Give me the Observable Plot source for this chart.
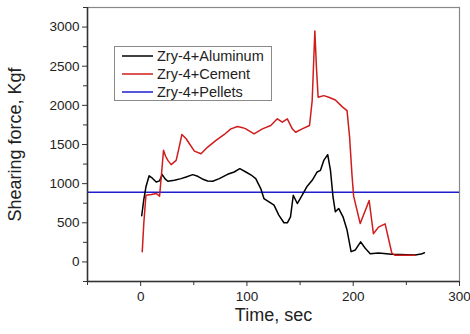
<!DOCTYPE html>
<html>
<head>
<meta charset="utf-8">
<script src="https://cdn.jsdelivr.net/npm/d3@7"></script>
<script src="https://cdn.jsdelivr.net/npm/@observablehq/plot@0.6"></script>
<style>
  html, body { margin: 0; padding: 0; background: #fff; }
  #wrap { position: relative; width: 470px; height: 334px; font-family: "Liberation Sans", Arial, sans-serif; }
  #legend { position: absolute; left: 114px; top: 46px; width: 158px; height: 55px; border: 1px solid #8a8a8a; background: #fff; box-sizing: border-box; padding-top: 0px; }
  .row { display: flex; align-items: center; height: 18px; font-size: 14.5px; color: #222; }
  .row svg { margin-left: 7px; margin-right: 4px; }
</style>
</head>
<body>
<div id="wrap"></div>
<script>
// Zry-4+Aluminum
const timeAl = [1, 3, 5, 8, 11, 14.7, 17.8, 20.3, 23, 25.6, 31.8, 38, 42.8, 49, 53.7, 58, 63, 67.8, 74, 81.8, 88, 93.3, 99, 104, 108.3, 113, 116, 120.8, 125.5, 130, 134.8, 138, 141, 143.6, 147.4, 152, 156.7, 161.4, 166.1, 169.2, 172.3, 176, 178.6, 181, 183.2, 186.3, 190.4, 194.2, 198, 202, 207, 211.3, 216, 223.8, 236.3, 258, 264, 267];
const forceAl = [590, 800, 960, 1100, 1070, 1020, 1035, 1115, 1060, 1030, 1043, 1064, 1085, 1115, 1094, 1060, 1034, 1030, 1064, 1119, 1149, 1191, 1149, 1110, 1064, 937, 810, 767, 725, 598, 500, 500, 576, 852, 746, 852, 967, 1043, 1149, 1170, 1297, 1370, 1170, 830, 640, 683, 576, 407, 131, 153, 256, 174, 105, 114, 98, 90, 100, 118];
// Zry-4+Cement
const timeCe = [1.5, 3, 5, 10, 14.7, 17.8, 19.4, 21.5, 23.5, 25.6, 28.7, 33.4, 36, 38.8, 42.8, 45.9, 50.6, 56.8, 63.1, 70.9, 78.7, 84.9, 91.2, 96, 99, 106.7, 114.6, 122.4, 128.6, 133.3, 138, 142.7, 145.8, 152, 158.9, 161.4, 163.9, 165.4, 167, 172.3, 177, 183.2, 189.5, 194.2, 196.6, 198.9, 200.4, 206.6, 212, 215, 219, 223.8, 230, 236.3, 239.4, 258];
const forceCe = [131, 500, 852, 861, 874, 840, 1085, 1425, 1350, 1297, 1243, 1297, 1450, 1628, 1573, 1510, 1416, 1382, 1467, 1552, 1628, 1700, 1730, 1715, 1700, 1637, 1700, 1743, 1828, 1785, 1828, 1700, 1657, 1700, 1743, 2061, 2951, 2484, 2103, 2124, 2103, 2069, 1984, 1933, 1594, 1100, 840, 490, 680, 785, 360, 445, 487, 114, 85, 85];
// Zry-4+Pellets (constant level)
const pelletsLevel = 890;

const seriesNames = ["Zry-4+Aluminum", "Zry-4+Cement", "Zry-4+Pellets"];
const seriesColors = ["#000000", "#d01c1c", "#1f1fcc"];

const xMajor = [0, 100, 200, 300];
const xMinor = [-50, 50, 150, 250];
const yMajor = [0, 500, 1000, 1500, 2000, 2500, 3000];
const yMinor = [-250, 250, 750, 1250, 1750, 2250, 2750, 3250];

const al = timeAl.map((t, i) => ({t, f: forceAl[i]}));
const ce = timeCe.map((t, i) => ({t, f: forceCe[i]}));

const chart = Plot.plot({
  width: 470,
  height: 334,
  marginLeft: 87,
  marginRight: 11,
  marginTop: 7,
  marginBottom: 53,
  style: {fontFamily: "'Liberation Sans', Arial, sans-serif", fontSize: "13px", color: "#222", background: "#fff"},
  x: {domain: [-50, 300]},
  y: {domain: [-250, 3250]},
  marks: [
    Plot.frame({stroke: "#888", strokeWidth: 1.2}),
    Plot.ruleY([pelletsLevel], {stroke: seriesColors[2], strokeWidth: 1.5}),
    Plot.line(al, {x: "t", y: "f", stroke: seriesColors[0], strokeWidth: 1.5}),
    Plot.line(ce, {x: "t", y: "f", stroke: seriesColors[1], strokeWidth: 1.5}),
    Plot.axisX({ticks: xMinor, tickSize: 4, tickFormat: () => "", label: null, stroke: "#333"}),
    Plot.axisY({ticks: yMinor, tickSize: 4, tickFormat: () => "", label: null, stroke: "#333"}),
    Plot.axisX({ticks: xMajor, tickSize: 5, tickPadding: 5, fontSize: 13.5, tickFormat: d3.format("d"), label: "Time, sec", labelAnchor: "center", labelArrow: "none", labelOffset: 39, stroke: "#333"}),
    Plot.axisY({ticks: yMajor, tickSize: 5, tickPadding: 3, fontSize: 13.5, tickFormat: d3.format("d"), label: "Shearing force, Kgf", labelAnchor: "center", labelArrow: "none", labelOffset: 79, stroke: "#333"}),
    Plot.ruleX([-50], {stroke: "#333", strokeWidth: 1.5}),
    Plot.ruleY([-250], {stroke: "#333", strokeWidth: 1.5})
  ]
});
chart.querySelectorAll("g[aria-label='x-axis label'] text, g[aria-label='y-axis label'] text").forEach(t => t.setAttribute("font-size", "18"));
const wrap = document.getElementById("wrap");
wrap.appendChild(chart);

const legend = document.createElement("div");
legend.id = "legend";
seriesNames.forEach((name, i) => {
  const row = document.createElement("div");
  row.className = "row";
  row.innerHTML = `<svg width="31" height="4"><line x1="0" y1="2" x2="31" y2="2" stroke="${seriesColors[i]}" stroke-width="1.5"/></svg><span>${name}</span>`;
  legend.appendChild(row);
});
wrap.appendChild(legend);
</script>
</body>
</html>
